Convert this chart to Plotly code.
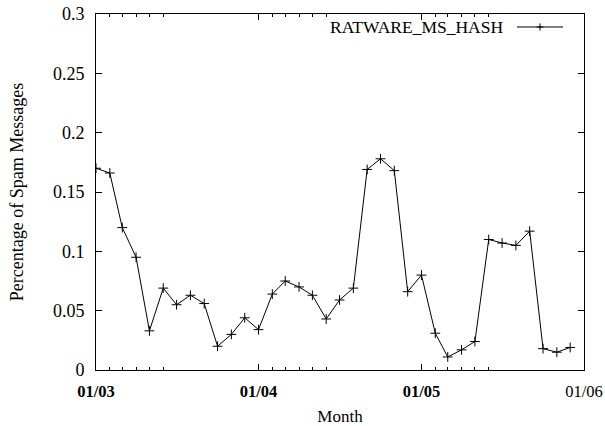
import plotly.graph_objects as go

months = [
    "2003-01-01", "2003-02-01", "2003-03-01", "2003-04-01", "2003-05-01", "2003-06-01",
    "2003-07-01", "2003-08-01", "2003-09-01", "2003-10-01", "2003-11-01", "2003-12-01",
    "2004-01-01", "2004-02-01", "2004-03-01", "2004-04-01", "2004-05-01", "2004-06-01",
    "2004-07-01", "2004-08-01", "2004-09-01", "2004-10-01", "2004-11-01", "2004-12-01",
    "2005-01-01", "2005-02-01", "2005-03-01", "2005-04-01", "2005-05-01", "2005-06-01",
    "2005-07-01", "2005-08-01", "2005-09-01", "2005-10-01", "2005-11-01", "2005-12-01",
]
ratware_ms_hash = [
    0.170, 0.166, 0.120, 0.095, 0.033, 0.069, 0.055, 0.063, 0.056, 0.020, 0.030, 0.044,
    0.034, 0.064, 0.075, 0.070, 0.063, 0.043, 0.059, 0.069, 0.169, 0.178, 0.168, 0.066,
    0.080, 0.031, 0.011, 0.017, 0.024, 0.110, 0.107, 0.105, 0.117, 0.018, 0.015, 0.019,
]
series_name = "RATWARE_MS_HASH"

x_major_vals = ["2003-01-01", "2004-01-01", "2005-01-01", "2006-01-01"]
x_major_text = ["<b>01/03</b>", "<b>01/04</b>", "<b>01/05</b>", "01/06"]
x_minor_vals = [
    "2003-02-01", "2003-03-01", "2003-04-01", "2003-05-01", "2003-06-01",
    "2004-02-01", "2004-03-01", "2004-04-01", "2004-05-01", "2004-06-01",
    "2005-02-01", "2005-03-01", "2005-04-01", "2005-05-01", "2005-06-01",
]
y_tick_vals = [0, 0.05, 0.1, 0.15, 0.2, 0.25, 0.3]
y_tick_text = ["0", "0.05", "0.1", "0.15", "0.2", "0.25", "0.3"]

FONT = "'Liberation Serif', 'Times New Roman', serif"

fig = go.Figure()
fig.add_trace(go.Scatter(
    x=months, y=ratware_ms_hash, mode="lines+markers", name=series_name,
    line=dict(color="black", width=1),
    marker=dict(symbol="cross-thin", size=7, line=dict(color="black", width=1)),
    showlegend=False,
))

fig.update_layout(
    width=605, height=426,
    margin=dict(l=96, r=21, t=14, b=55.5, pad=0),
    paper_bgcolor="white", plot_bgcolor="white",
    font=dict(family=FONT, color="black", size=16),
    xaxis=dict(
        type="date", range=["2003-01-01", "2006-01-01"], automargin=False,
        tickmode="array", tickvals=x_major_vals, ticktext=x_major_text,
        ticks="inside", ticklen=6, tickwidth=1, tickcolor="black",
        minor=dict(tickmode="array", tickvals=x_minor_vals, ticks="inside",
                   ticklen=3, tickwidth=1, tickcolor="black", showgrid=False),
        showline=True, linecolor="black", linewidth=1, mirror="ticks",
        showgrid=False, zeroline=False,
        tickfont=dict(size=16.5, family=FONT, color="black"), ticklabelstandoff=6,
        title=dict(text="Month", font=dict(size=17, family=FONT, color="black"), standoff=10),
    ),
    yaxis=dict(
        range=[0, 0.3], automargin=False,
        tickmode="array", tickvals=y_tick_vals, ticktext=y_tick_text,
        ticks="inside", ticklen=6, tickwidth=1, tickcolor="black",
        showline=True, linecolor="black", linewidth=1, mirror="ticks",
        showgrid=False, zeroline=False,
        tickfont=dict(size=18, family=FONT, color="black"), ticklabelstandoff=7,
        title=dict(text="Percentage of Spam Messages", font=dict(size=18, family=FONT, color="black"), standoff=24),
    ),
)

# legend key drawn manually (text left of sample, as in the reference)
leg_y = 0.9635
fig.add_annotation(xref="paper", yref="paper", x=0.838, y=leg_y, text=series_name,
                   showarrow=False, xanchor="right", yanchor="middle",
                   font=dict(size=17.5, family=FONT, color="black"))
fig.add_shape(type="line", xref="paper", yref="paper", x0=0.8627, x1=0.957,
              y0=leg_y, y1=leg_y, line=dict(color="black", width=1))
fig.add_shape(type="line", xref="paper", yref="paper", x0=0.9098 - 0.007, x1=0.9098 + 0.007,
              y0=leg_y, y1=leg_y, line=dict(color="black", width=1))
fig.add_shape(type="line", xref="paper", yref="paper", x0=0.9098, x1=0.9098,
              y0=leg_y - 0.0098, y1=leg_y + 0.0098, line=dict(color="black", width=1))

fig.write_html("out.html")
